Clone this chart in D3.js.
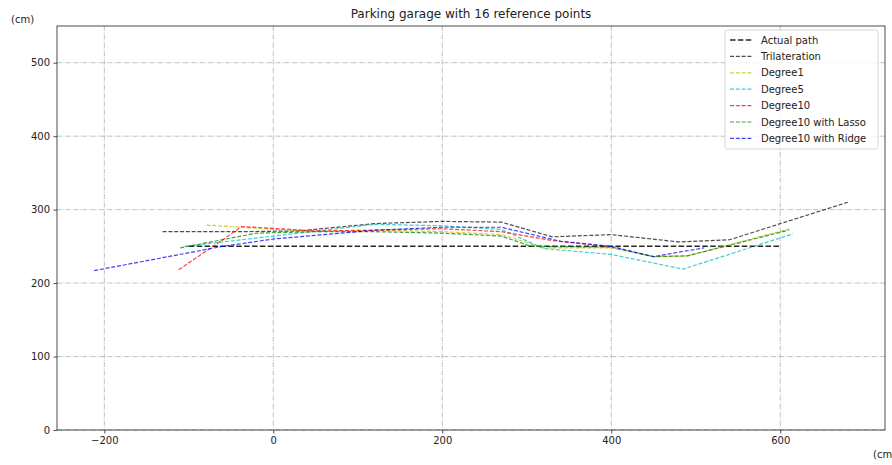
<!DOCTYPE html>
<html>
<head>
<meta charset="utf-8">
<script src="https://cdn.jsdelivr.net/npm/d3@7"></script>
<style>
  body { margin: 0; background: #fff; }
  svg { font-family: "DejaVu Sans", sans-serif; }
</style>
</head>
<body>
<svg id="chart" width="892" height="465"></svg>
<script>
// series data (x, y in cm)
const actualPath = [[-100, 250], [600, 250]];
const trilateration = [[-131, 270], [-40, 270], [30, 271], [120, 281], [200, 284], [270, 283], [330, 263], [400, 266], [480, 256], [540, 259], [680, 310]];
const degree1 = [[-79, 279], [-37, 276], [50, 270], [120, 272], [200, 270], [270, 266], [320, 248], [400, 248], [450, 236], [490, 237], [612, 274]];
const degree5 = [[-105, 250], [0, 264], [60, 272], [120, 280], [200, 278], [270, 273], [320, 247], [400, 239], [485, 219], [615, 267]];
const degree10 = [[-112, 218], [-37, 277], [50, 271], [120, 272], [200, 274], [270, 270], [330, 258], [395, 250]];
const degree10Lasso = [[-110, 248], [-20, 268], [50, 270], [120, 270], [200, 268], [270, 264], [305, 250], [400, 249], [450, 236], [490, 237], [610, 272]];
const degree10Ridge = [[-212, 217], [-60, 250], [0, 260], [120, 272], [200, 276], [270, 276], [340, 257], [400, 250], [450, 236], [510, 248]];

const xTicks = [-200, 0, 200, 400, 600];
const yTicks = [0, 100, 200, 300, 400, 500];

const series = [
  {name: "Actual path", data: actualPath, color: "#000000", width: 1.5, dash: "5.5,2.4", opacity: 0.85},
  {name: "Trilateration", data: trilateration, color: "#000000", width: 1.2, dash: "4,1.8", opacity: 0.7},
  {name: "Degree1", data: degree1, color: "#bfbf00", width: 1.2, dash: "4,1.8", opacity: 0.75},
  {name: "Degree5", data: degree5, color: "#00bfbf", width: 1.2, dash: "4,1.8", opacity: 0.75},
  {name: "Degree10", data: degree10, color: "#ff0000", width: 1.2, dash: "4,1.8", opacity: 0.75},
  {name: "Degree10 with Lasso", data: degree10Lasso, color: "#008000", width: 1.2, dash: "4,1.8", opacity: 0.75},
  {name: "Degree10 with Ridge", data: degree10Ridge, color: "#0000ff", width: 1.2, dash: "4,1.8", opacity: 0.75}
];

const svg = d3.select("#chart"),
    margin = {top: 26, right: 7, bottom: 35, left: 57},
    width = +svg.attr("width") - margin.left - margin.right,
    height = +svg.attr("height") - margin.top - margin.bottom,
    g = svg.append("g").attr("transform", "translate(" + margin.left + "," + margin.top + ")");

const x = d3.scaleLinear().domain([-256, 724]).range([0, width]);
const y = d3.scaleLinear().domain([0, 550]).range([height, 0]);

// grid
g.append("g").selectAll("line").data(xTicks).enter().append("line")
    .attr("x1", d => x(d)).attr("x2", d => x(d))
    .attr("y1", 0).attr("y2", height)
    .attr("stroke", "#b0b0b0").attr("stroke-width", 0.8)
    .attr("stroke-dasharray", "5,1.3,0.8,1.3");
g.append("g").selectAll("line").data(yTicks).enter().append("line")
    .attr("x1", 0).attr("x2", width)
    .attr("y1", d => y(d)).attr("y2", d => y(d))
    .attr("stroke", "#b0b0b0").attr("stroke-width", 0.8)
    .attr("stroke-dasharray", "5,1.3,0.8,1.3");

// lines
const line = d3.line().x(d => x(d[0])).y(d => y(d[1]));
g.append("g").selectAll("path").data(series).enter().append("path")
    .attr("d", d => line(d.data))
    .attr("fill", "none")
    .attr("stroke", d => d.color)
    .attr("stroke-width", d => d.width)
    .attr("stroke-dasharray", d => d.dash)
    .attr("stroke-opacity", d => d.opacity);

// axes
const xAxis = g.append("g")
    .attr("transform", "translate(0," + height + ")")
    .call(d3.axisBottom(x).tickValues(xTicks).tickSize(3.5).tickPadding(3.5)
        .tickFormat(d => d < 0 ? "\u2212" + Math.abs(d) : d));
const yAxis = g.append("g")
    .call(d3.axisLeft(y).tickValues(yTicks).tickSize(3.5).tickPadding(3.5));
[xAxis, yAxis].forEach(a => {
    a.select(".domain").remove();
    a.selectAll("text").attr("font-size", 10).attr("fill", "#222").attr("font-family", "DejaVu Sans");
    a.selectAll("line").attr("stroke", "#222").attr("stroke-width", 0.8);
});

// frame
g.append("rect").attr("width", width).attr("height", height)
    .attr("fill", "none").attr("stroke", "#222").attr("stroke-width", 0.8);

// title and labels
svg.append("text").attr("x", margin.left + width / 2).attr("y", 18)
    .attr("text-anchor", "middle").attr("font-size", 12).attr("fill", "#222")
    .text("Parking garage with 16 reference points");
svg.append("text").attr("x", 11).attr("y", 23)
    .attr("font-size", 10).attr("fill", "#222").text("(cm)");
// x-axis unit label sits at the window's right edge, as in the reference
svg.append("text").attr("x", 873).attr("y", 458)
    .attr("font-size", 10).attr("fill", "#222").text("(cm)");

// legend
const lg = svg.append("g").attr("transform", "translate(725,30)");
lg.append("rect").attr("width", 153).attr("height", 119).attr("rx", 2.5)
    .attr("fill", "#fff").attr("fill-opacity", 0.8)
    .attr("stroke", "#cccccc").attr("stroke-width", 0.8);
const item = lg.selectAll("g.item").data(series).enter().append("g")
    .attr("class", "item")
    .attr("transform", (d, i) => "translate(0," + (10 + i * 16.4) + ")");
item.append("line").attr("x1", 5).attr("x2", 27)
    .attr("stroke", d => d.color)
    .attr("stroke-width", d => d.width)
    .attr("stroke-dasharray", d => d.dash)
    .attr("stroke-opacity", d => d.opacity);
item.append("text").attr("x", 36).attr("y", 3.6)
    .attr("font-size", 10).attr("fill", "#222").text(d => d.name);
</script>
</body>
</html>
